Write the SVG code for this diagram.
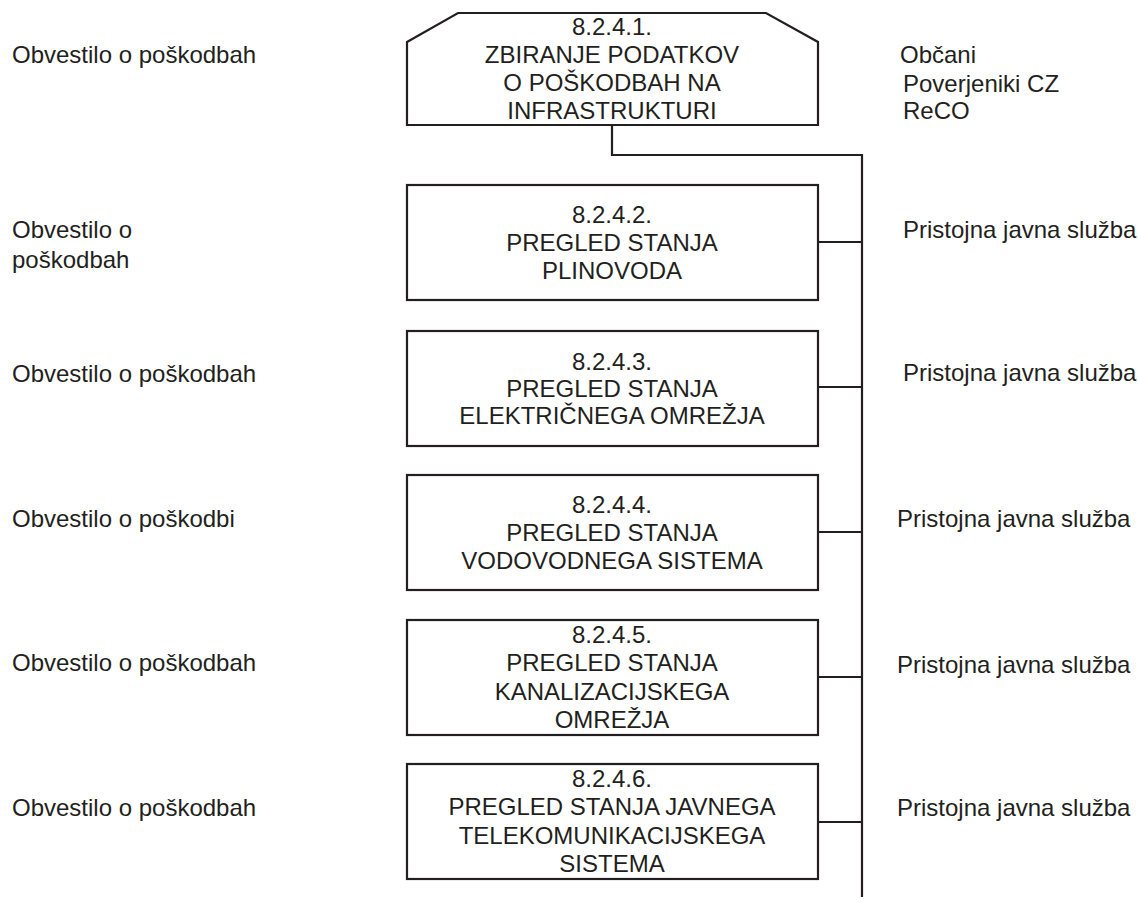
<svg xmlns="http://www.w3.org/2000/svg" width="1138" height="899" viewBox="0 0 1138 899">
<style>
text{font-family:"Liberation Sans",Arial,sans-serif;font-size:24px;fill:#231f20}
.c{text-anchor:middle}
.box{fill:#fff;stroke:#231f20;stroke-width:2.2}
.ln{fill:none;stroke:#231f20;stroke-width:2.2}
</style>
<rect width="1138" height="899" fill="#fff"/>
<g id="connectors">
<path class="ln" d="M612 126V155H862"/>
<path class="ln" d="M862 154V897"/>
<path class="ln" d="M818 242H862M818 387H862M818 532H862M818 677H862M818 822H862"/>
</g>
<g id="n1">
<polygon class="box" points="407,42 458,13 766,13 818,42 818,125 407,125"/>
<text class="c" x="612" y="35">8.2.4.1.</text>
<text class="c" x="612" y="63">ZBIRANJE PODATKOV</text>
<text class="c" x="612" y="91">O POŠKODBAH NA</text>
<text class="c" x="612" y="119">INFRASTRUKTURI</text>
</g>
<g id="n1-left"><text x="12" y="63">Obvestilo o poškodbah</text></g>
<g id="n1-right">
<text x="900" y="63">Občani</text>
<text x="903" y="92">Poverjeniki CZ</text>
<text x="903" y="119">ReCO</text>
</g>
<g id="n2">
<rect class="box" x="407" y="185" width="411" height="115"/>
<text class="c" x="612" y="223">8.2.4.2.</text>
<text class="c" x="612" y="251">PREGLED STANJA</text>
<text class="c" x="612" y="279">PLINOVODA</text>
</g>
<g id="n2-left"><text x="12" y="238">Obvestilo o</text><text x="12" y="268">poškodbah</text></g>
<g id="n2-right"><text x="903" y="238">Pristojna javna služba</text></g>
<g id="n3">
<rect class="box" x="407" y="331" width="411" height="115"/>
<text class="c" x="612" y="370">8.2.4.3.</text>
<text class="c" x="612" y="397">PREGLED STANJA</text>
<text class="c" x="612" y="424">ELEKTRIČNEGA OMREŽJA</text>
</g>
<g id="n3-left"><text x="12" y="382">Obvestilo o poškodbah</text></g>
<g id="n3-right"><text x="903" y="381">Pristojna javna služba</text></g>
<g id="n4">
<rect class="box" x="407" y="475" width="411" height="115"/>
<text class="c" x="612" y="513">8.2.4.4.</text>
<text class="c" x="612" y="541">PREGLED STANJA</text>
<text class="c" x="612" y="569">VODOVODNEGA SISTEMA</text>
</g>
<g id="n4-left"><text x="12" y="527">Obvestilo o poškodbi</text></g>
<g id="n4-right"><text x="897" y="527">Pristojna javna služba</text></g>
<g id="n5">
<rect class="box" x="407" y="620" width="411" height="115"/>
<text class="c" x="612" y="643">8.2.4.5.</text>
<text class="c" x="612" y="671">PREGLED STANJA</text>
<text class="c" x="612" y="700">KANALIZACIJSKEGA</text>
<text class="c" x="612" y="728">OMREŽJA</text>
</g>
<g id="n5-left"><text x="12" y="671">Obvestilo o poškodbah</text></g>
<g id="n5-right"><text x="897" y="673">Pristojna javna služba</text></g>
<g id="n6">
<rect class="box" x="407" y="764" width="411" height="115"/>
<text class="c" x="612" y="787">8.2.4.6.</text>
<text class="c" x="612" y="815">PREGLED STANJA JAVNEGA</text>
<text class="c" x="612" y="844">TELEKOMUNIKACIJSKEGA</text>
<text class="c" x="612" y="872">SISTEMA</text>
</g>
<g id="n6-left"><text x="12" y="816">Obvestilo o poškodbah</text></g>
<g id="n6-right"><text x="897" y="816">Pristojna javna služba</text></g>
</svg>
